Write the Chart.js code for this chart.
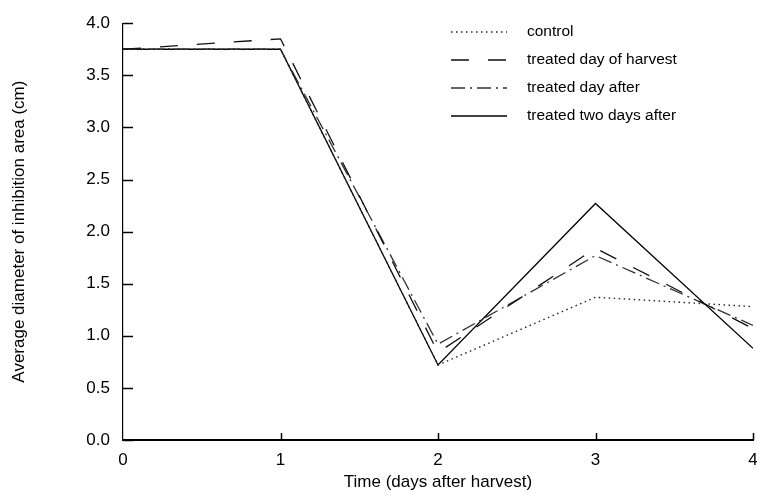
<!DOCTYPE html>
<html>
<head>
<meta charset="utf-8">
<script src="https://cdn.jsdelivr.net/npm/chart.js@4"></script>
<style>
  html, body { margin: 0; padding: 0; background: #fff; }
  #wrap { width: 757px; height: 494px; }
</style>
</head>
<body>
<div id="wrap"><canvas id="chart"></canvas></div>
<script>
// days after harvest
const days = [0, 1, 2, 3, 4]
const seriesNames = ["control", "treated day of harvest", "treated day after", "treated two days after"]
const control = [3.75, 3.75, 0.72, 1.37, 1.28]
const treatedHarvestDay = [3.75, 3.85, 0.84, 1.84, 1.07]
const treatedDayAfter = [3.75, 3.75, 0.92, 1.77, 1.10]
const treatedTwoDaysAfter = [3.75, 3.75, 0.72, 2.27, 0.88]
const yTicks = [0, 0.5, 1, 1.5, 2, 2.5, 3, 3.5, 4]
const xTicks = [1, 2, 3, 4]

const font = "'Liberation Sans', Arial, sans-serif"
const dashes = [[1.5, 3.5], [18, 19], [14, 5, 2, 5], []]
const colors = ["#222", "#111", "#333", "#000"]
const allValues = [control, treatedHarvestDay, treatedDayAfter, treatedTwoDaysAfter]

// inward tick marks, like the printed figure
const innerTicks = {
    id: "innerTicks",
    afterDraw(chart) {
        const ctx = chart.ctx
        const xs = chart.scales.x, ys = chart.scales.y
        ctx.save()
        ctx.strokeStyle = "#000"
        ctx.lineWidth = 1.5
        ctx.beginPath()
        yTicks.forEach(v => {
            const py = Math.round(ys.getPixelForValue(v)) + 0.5
            ctx.moveTo(xs.left, py)
            ctx.lineTo(xs.left + 10, py)
        })
        xTicks.forEach(v => {
            const px = Math.round(xs.getPixelForValue(v)) + 0.5
            ctx.moveTo(px, ys.bottom)
            ctx.lineTo(px, ys.bottom - 7)
        })
        ctx.stroke()
        ctx.restore()
    }
}

// legend drawn inside the plot, top right
const lineLegend = {
    id: "lineLegend",
    afterDraw(chart) {
        const ctx = chart.ctx
        ctx.save()
        ctx.font = "15.5px " + font
        ctx.textBaseline = "middle"
        ctx.fillStyle = "#000"
        chart.data.datasets.forEach((ds, i) => {
            const y = 32 + i * 28
            ctx.beginPath()
            ctx.setLineDash(ds.borderDash)
            ctx.strokeStyle = ds.borderColor
            ctx.lineWidth = ds.borderWidth
            ctx.moveTo(451, y)
            ctx.lineTo(507, y)
            ctx.stroke()
            ctx.setLineDash([])
            ctx.fillText(ds.label, 527, y)
        })
        ctx.restore()
    }
}

new Chart(document.getElementById("chart").getContext("2d"), {
    type: "line",
    data: {
        datasets: seriesNames.map((name, i) => ({
            label: name,
            data: days.map((d, j) => ({ x: d, y: allValues[i][j] })),
            borderColor: colors[i],
            borderWidth: i == 0 ? 1.4 : 1.3,
            borderDash: dashes[i],
            pointRadius: 0,
            tension: 0,
            fill: false
        }))
    },
    options: {
        responsive: true,
        maintainAspectRatio: false,
        animation: false,
        layout: { padding: { left: 9, right: 4, top: 21, bottom: 1 } },
        plugins: {
            legend: { display: false },
            tooltip: { enabled: false }
        },
        scales: {
            x: {
                type: "linear",
                min: 0,
                max: 4,
                ticks: { stepSize: 1, color: "#000", padding: 10, font: { family: font, size: 17 } },
                grid: { display: false, drawTicks: false },
                border: { display: true, color: "#000", width: 2 },
                title: { display: true, text: "Time (days after harvest)", color: "#000", padding: 0, font: { family: font, size: 17 } },
                afterFit: (scale) => {
                    scale.height = 53
                    scale.paddingLeft = 0
                    scale.paddingRight = 0
                }
            },
            y: {
                min: 0,
                max: 4,
                ticks: {
                    stepSize: 0.5,
                    color: "#000",
                    padding: 13,
                    font: { family: font, size: 17 },
                    callback: (v) => v.toFixed(1)
                },
                grid: { display: false, drawTicks: false },
                border: { display: true, color: "#000", width: 1.2 },
                title: { display: true, text: "Average diameter of inhibition area (cm)", color: "#000", padding: 0, font: { family: font, size: 17 } },
                afterFit: (scale) => { scale.width = 114 }
            }
        }
    },
    plugins: [innerTicks, lineLegend]
});
</script>
</body>
</html>
